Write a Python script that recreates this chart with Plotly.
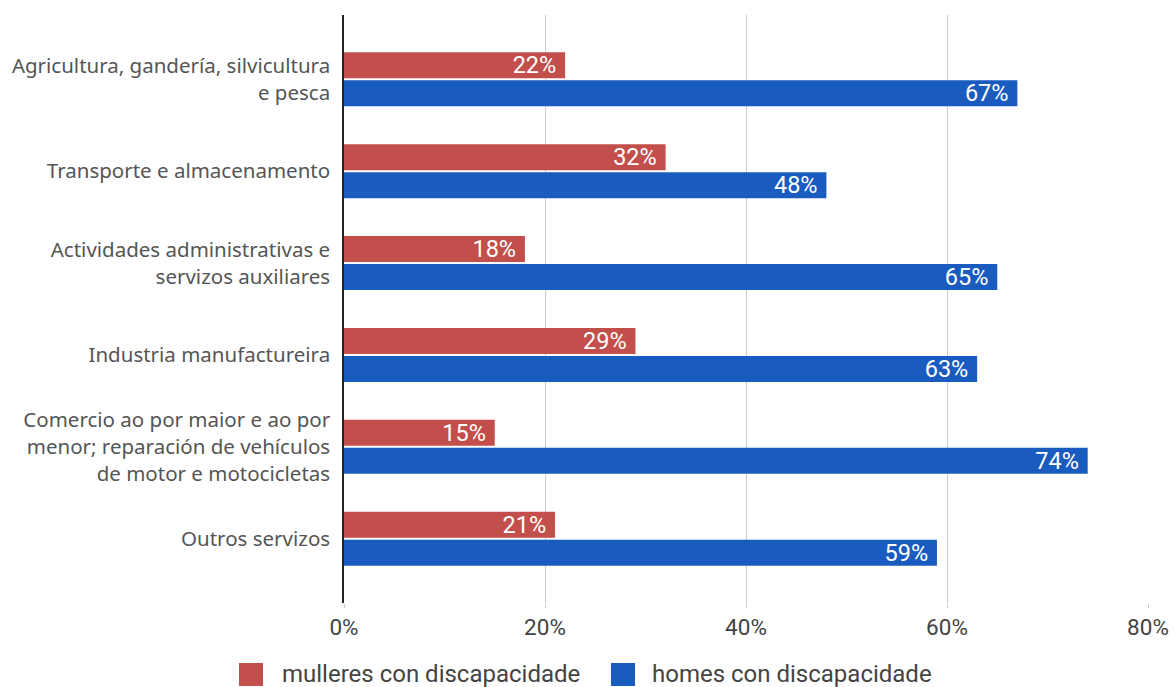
import plotly.graph_objects as go

# Sectors (top to bottom) and share of employed people with disability, in %
sectores = [
    "Agricultura, gandería, silvicultura<br>e pesca",
    "Transporte e almacenamento",
    "Actividades administrativas e<br>servizos auxiliares",
    "Industria manufactureira",
    "Comercio ao por maior e ao por<br>menor; reparación de vehículos<br>de motor e motocicletas",
    "Outros servizos",
]
mulleres = [22, 32, 18, 29, 15, 21]
homes = [67, 48, 65, 63, 74, 59]
x_ticks = [0, 20, 40, 60, 80]

RED = "#C24F4C"
BLUE = "#1A5BBF"

W, H = 1174, 687
M_L, M_R, M_T, M_B = 344, 26, 15, 84
PLOT_W = W - M_L - M_R
PLOT_H = H - M_T - M_B


def px_x(px):
    """Pixel column -> paper x fraction."""
    return (px - M_L) / PLOT_W


def px_y(py):
    """Pixel row -> paper y fraction."""
    return (H - M_B - py) / PLOT_H


series = [
    ("mulleres con discapacidade", mulleres, RED),
    ("homes con discapacidade", homes, BLUE),
]

fig = go.Figure()
for nome, valores, cor in series:
    fig.add_trace(go.Bar(
        y=sectores,
        x=valores,
        name=nome,
        orientation="h",
        marker=dict(color=cor, line=dict(width=0)),
        text=[f"{v}%\u00a0" for v in valores],
        textposition="inside",
        insidetextanchor="end",
        constraintext="none",
        textangle=0,
        textfont=dict(family="Roboto", size=23.5, color="white"),
        insidetextfont=dict(family="Roboto", size=23.5, color="white"),
        hoverinfo="skip",
        showlegend=False,
    ))

# Legend drawn below the axis: coloured squares with their labels
legend_items = [(239, 280), (611, 650)]
shapes = []
annotations = []
for (sq_x, txt_x), (nome, _, cor) in zip(legend_items, series):
    shapes.append(dict(
        type="rect", xref="paper", yref="paper",
        x0=px_x(sq_x), x1=px_x(sq_x + 24),
        y0=px_y(686), y1=px_y(663),
        fillcolor=cor, line=dict(width=0), layer="above",
    ))
    annotations.append(dict(
        xref="paper", yref="paper",
        x=px_x(txt_x), y=px_y(674),
        xanchor="left", yanchor="middle",
        text=nome, showarrow=False,
        font=dict(family="Roboto", size=24, color="#444444"),
    ))

fig.update_layout(
    width=W,
    height=H,
    margin=dict(l=M_L, r=M_R, t=M_T, b=M_B, autoexpand=False),
    paper_bgcolor="white",
    plot_bgcolor="white",
    barmode="group",
    bargap=0.39,
    bargroupgap=0.07,
    font=dict(family="Roboto", size=20, color="#444444"),
    showlegend=False,
    shapes=shapes,
    annotations=annotations,
    xaxis=dict(
        range=[0, 80],
        tickvals=x_ticks,
        ticktext=[f"{t}%" for t in x_ticks],
        showgrid=True,
        gridcolor="#CCCCCC",
        gridwidth=1,
        zeroline=False,
        ticks="outside",
        ticklen=4,
        tickcolor="#CCCCCC",
        tickfont=dict(family="Roboto", size=22.5, color="#444444"),
        ticklabelstandoff=0,
        automargin=False,
    ),
    yaxis=dict(
        type="category",
        range=[5.7, -0.7],
        showgrid=False,
        showline=True,
        linecolor="#222222",
        linewidth=1.5,
        ticks="",
        tickfont=dict(family="Noto Sans", size=20.5, color="#555555"),
        ticklabelstandoff=8,
        automargin=False,
    ),
)

fig.write_html("out.html")
